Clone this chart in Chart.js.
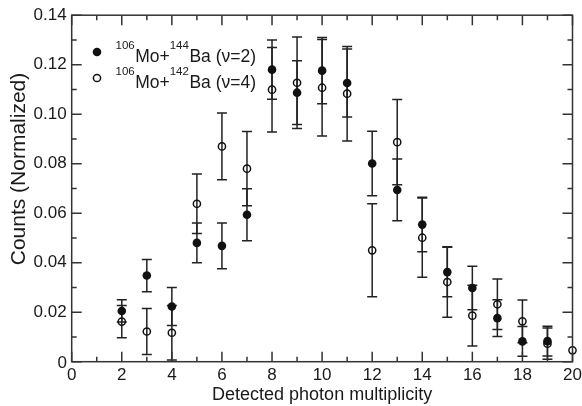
<!DOCTYPE html>
<html>
<head>
<meta charset="utf-8">
<script src="https://cdn.jsdelivr.net/npm/chart.js@4/dist/chart.umd.min.js"></script>
<style>
html, body { margin: 0; padding: 0; background: #fff; }
#wrap { width: 582px; height: 406px; }
</style>
</head>
<body>
<div id="wrap"><canvas id="chart" width="582" height="406"></canvas></div>
<script>
// detected photon multiplicity (x)
const multiplicity = [2, 3, 4, 5, 6, 7, 8, 9, 10, 11, 12, 13, 14, 15, 16, 17, 18, 19, 20];

// 106Mo + 144Ba (v=2), filled circles
const nu2Counts = [0.0205, 0.0348, 0.0223, 0.0480, 0.0468, 0.0594, 0.1180, 0.1087, 0.1176, 0.1126,
                   0.0801, 0.0694, 0.0554, 0.0362, 0.0298, 0.0176, 0.0082, 0.0083, null];
const nu2Errors = [0.0045, 0.0065, 0.0077, 0.0080, 0.0092, 0.0105, 0.0120, 0.0129, 0.0134, 0.0137,
                   0.0130, 0.0125, 0.0110, 0.0100, 0.0088, 0.0074, 0.0060, 0.0060, null];

// 106Mo + 142Ba (v=4), open circles
const nu4Counts = [0.0162, 0.0122, 0.0117, 0.0638, 0.0870, 0.0780, 0.1099, 0.1127, 0.1107, 0.1083,
                   0.0450, 0.0887, 0.0501, 0.0322, 0.0186, 0.0232, 0.0163, 0.0073, 0.0046];
const nu4Errors = [0.0065, 0.0093, 0.0110, 0.0120, 0.0135, 0.0150, 0.0171, 0.0185, 0.0195, 0.0191,
                   0.0188, 0.0172, 0.0160, 0.0142, 0.0123, 0.0102, 0.0086, 0.0063, 0];

const xTickLabels = ['0', '2', '4', '6', '8', '10', '12', '14', '16', '18', '20'];
const yTickLabels = ['0', '0.02', '0.04', '0.06', '0.08', '0.10', '0.12', '0.14'];

const xTitle = 'Detected photon multiplicity';
const yTitle = 'Counts (Normalized)';
const legendEntries = [
    { parts: ['106', 'Mo+', '144', 'Ba (\u03bd=2)'], filled: true },
    { parts: ['106', 'Mo+', '142', 'Ba (\u03bd=4)'], filled: false }
];

const FONT = '"Liberation Sans", Arial, Helvetica, sans-serif';
const INK = '#1a1a1a';

function toPoints(counts, errors) {
    const pts = [];
    multiplicity.forEach((x, i) => {
        if (counts[i] !== null) pts.push({ x: x, y: counts[i], err: errors[i] });
    });
    return pts;
}

// vertical error bars with caps, drawn under the markers
const errorBars = {
    id: 'errorBars',
    beforeDatasetsDraw(chart) {
        const { ctx, scales: { x, y } } = chart;
        ctx.save();
        ctx.strokeStyle = '#222';
        ctx.lineWidth = 1.5;
        chart.data.datasets.forEach(ds => {
            ds.data.forEach(p => {
                if (!p.err) return;
                const px = x.getPixelForValue(p.x);
                const top = y.getPixelForValue(p.y + p.err);
                const bot = y.getPixelForValue(Math.max(0, p.y - p.err));
                ctx.beginPath();
                ctx.moveTo(px, top); ctx.lineTo(px, bot);
                ctx.moveTo(px - 5, top); ctx.lineTo(px + 5, top);
                ctx.moveTo(px - 5, bot); ctx.lineTo(px + 5, bot);
                ctx.stroke();
            });
        });
        ctx.restore();
    }
};

// frame, inward ticks on all four sides, y title, lowered "0", legend
const frame = {
    id: 'frame',
    afterDraw(chart) {
        const { ctx, chartArea: a, scales: { x, y } } = chart;
        ctx.save();
        ctx.strokeStyle = '#333';
        ctx.lineWidth = 1.5;
        ctx.strokeRect(a.left, a.top, a.right - a.left, a.bottom - a.top);
        ctx.beginPath();
        for (let v = 0; v <= 20; v++) {
            const len = v % 2 === 0 ? 10 : 5;
            const px = x.getPixelForValue(v);
            ctx.moveTo(px, a.bottom); ctx.lineTo(px, a.bottom - len);
            ctx.moveTo(px, a.top); ctx.lineTo(px, a.top + len);
        }
        for (let i = 0; i <= 14; i++) {
            const len = i % 2 === 0 ? 10 : 5;
            const py = y.getPixelForValue(i * 0.01);
            ctx.moveTo(a.left, py); ctx.lineTo(a.left + len, py);
            ctx.moveTo(a.right, py); ctx.lineTo(a.right - len, py);
        }
        ctx.stroke();

        ctx.fillStyle = INK;
        // y axis title
        ctx.save();
        ctx.translate(19, 169);
        ctx.rotate(-Math.PI / 2);
        ctx.font = '21px ' + FONT;
        ctx.textAlign = 'center';
        ctx.textBaseline = 'middle';
        ctx.fillText(yTitle, 0, 0);
        ctx.restore();

        // the y "0" sits a little low, as in the original plot
        ctx.font = '17px ' + FONT;
        ctx.textAlign = 'right';
        ctx.textBaseline = 'middle';
        ctx.fillText(yTickLabels[0], 67, 363);

        // legend with superscript mass numbers
        const rows = [52, 78];
        legendEntries.forEach((e, r) => {
            const cy = rows[r];
            ctx.beginPath();
            ctx.arc(97, cy, e.filled ? 4.3 : 3.6, 0, Math.PI * 2);
            if (e.filled) { ctx.fillStyle = '#111'; ctx.fill(); }
            else { ctx.strokeStyle = '#111'; ctx.lineWidth = 1.5; ctx.stroke(); }
            ctx.fillStyle = INK;
            ctx.textAlign = 'left';
            ctx.textBaseline = 'alphabetic';
            let tx = 115.5;
            e.parts.forEach((t, k) => {
                const sup = k % 2 === 0;
                ctx.font = (sup ? '11.5px ' : '17.5px ') + FONT;
                ctx.fillText(t, tx, sup ? cy - 3 : cy + 9.5);
                tx += ctx.measureText(t).width + (sup ? 0.5 : 0);
            });
        });
        ctx.restore();
    }
};

new Chart(document.getElementById('chart'), {
    type: 'scatter',
    data: {
        datasets: [
            {
                label: '106Mo+142Ba (v=4)',
                data: toPoints(nu4Counts, nu4Errors),
                pointRadius: 3.6,
                pointBorderWidth: 1.5,
                borderColor: '#111',
                backgroundColor: 'rgba(0,0,0,0)',
                clip: false
            },
            {
                label: '106Mo+144Ba (v=2)',
                data: toPoints(nu2Counts, nu2Errors),
                pointRadius: 4.3,
                pointBorderWidth: 0,
                borderColor: '#111',
                backgroundColor: '#111',
                clip: false
            }
        ]
    },
    options: {
        responsive: false,
        devicePixelRatio: 1,
        animation: false,
        layout: { padding: { left: 0, right: 9.5, top: 10.7, bottom: 0 } },
        plugins: {
            legend: { display: false },
            tooltip: { enabled: false }
        },
        scales: {
            x: {
                type: 'linear',
                min: 0,
                max: 20,
                grid: { display: false, drawTicks: false },
                border: { display: false },
                ticks: {
                    stepSize: 2,
                    padding: 5,
                    color: INK,
                    font: { family: FONT, size: 17, lineHeight: 1 },
                    callback: (v, i) => xTickLabels[i]
                },
                title: {
                    display: true,
                    text: xTitle,
                    color: INK,
                    font: { family: FONT, size: 18, lineHeight: 1.2 },
                    padding: { top: 0, bottom: 0 }
                },
                afterFit: s => { s.height = 44.3; s.paddingRight = 0; s.paddingLeft = 0; }
            },
            y: {
                min: 0,
                max: 0.14,
                grid: { display: false, drawTicks: false },
                border: { display: false },
                ticks: {
                    stepSize: 0.02,
                    padding: 5,
                    color: INK,
                    font: { family: FONT, size: 17 },
                    callback: (v, i) => i === 0 ? '' : yTickLabels[i]
                },
                afterFit: s => { s.width = 71.7; }
            }
        }
    },
    plugins: [errorBars, frame]
});
</script>
</body>
</html>
